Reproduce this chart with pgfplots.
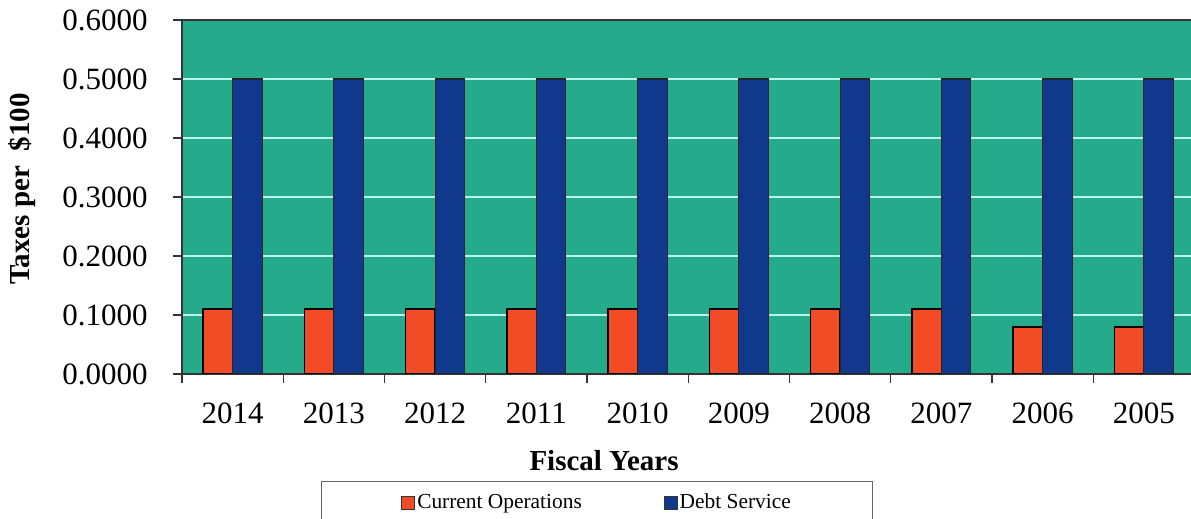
\documentclass[border=0pt]{standalone}
\usepackage{pgfplots}
\pgfplotsset{compat=1.18}
\usepackage{fontspec}
\setmainfont{Liberation Serif}
\definecolor{bgteal}{RGB}{38,170,140}
\definecolor{gridc}{RGB}{185,244,238}
\definecolor{barorange}{RGB}{242,76,38}
\definecolor{barblue}{RGB}{16,56,140}
\begin{document}
\begin{tikzpicture}
\begin{axis}[
  at={(0,0)}, anchor=south west,
  scale only axis,
  width=506.25pt, height=177pt,
  xmin=-0.5, xmax=9.5,
  ymin=0, ymax=0.6,
  ybar=0pt, bar width=14.75pt,
  axis background/.style={fill=bgteal},
  axis line style={black!80, line width=0.8pt},
  ymajorgrids, grid style={gridc, line width=0.8pt},
  xtick={0,...,9},
  xticklabels={2014,2013,2012,2011,2010,2009,2008,2007,2006,2005},
  major x tick style={draw=none},
  minor xtick={-0.5,0.5,...,9.5},
  ytick={0,0.1,...,0.6},
  xtick pos=bottom, ytick pos=left,
  tick align=outside,
  major tick length=4.5pt, minor tick length=4.5pt,
  tick style={black!80, line width=0.6pt},
  /pgf/number format/fixed,
  /pgf/number format/fixed zerofill,
  /pgf/number format/precision=4,
  /pgf/number format/assume math mode=true,
  yticklabel style={anchor=east, inner sep=0pt, xshift=-12.5pt, font=\fontsize{15.5}{16}\selectfont},
  xticklabel style={anchor=base, inner sep=0pt, yshift=-20.5pt, font=\fontsize{15.5}{16}\selectfont},
  xlabel={Fiscal Years},
  xlabel style={at={([yshift=-48.5pt]axis description cs:0.4168,0)}, anchor=base, inner sep=0pt, font=\fontsize{14.5}{15}\selectfont\bfseries},
  ylabel={Taxes per\ \ \$100},
  ylabel style={at={([xshift=-76pt]axis description cs:0,0.5226)}, anchor=base, inner sep=0pt, font=\fontsize{14.5}{15}\selectfont\bfseries},
  legend columns=2,
  legend style={at={(axis description cs:0.41,-0.302)}, anchor=north,
    draw=black!60, line width=0.6pt, inner xsep=40pt, inner ysep=5pt,
    nodes={inner sep=1pt},
    font=\fontsize{10.7}{12}\selectfont,
    /tikz/every even column/.append style={column sep=40pt}},
  legend image code/.code={\draw[#1, draw=black!80, line width=0.4pt] (0pt,-3.25pt) rectangle (6.5pt,3.25pt);},
]
\addplot[fill=barorange, draw=black, line width=0.8pt] coordinates {
  (0,0.11) (1,0.11) (2,0.11) (3,0.11) (4,0.11) (5,0.11) (6,0.11) (7,0.11) (8,0.08) (9,0.08)};
\addplot[fill=barblue, draw=black!85, line width=0.6pt] coordinates {
  (0,0.5) (1,0.5) (2,0.5) (3,0.5) (4,0.5) (5,0.5) (6,0.5) (7,0.5) (8,0.5) (9,0.5)};
\legend{Current Operations, Debt Service}
\end{axis}
\pgfresetboundingbox
\path[use as bounding box] (-91pt,-72.5pt) rectangle (504.5pt,187pt);
\end{tikzpicture}
\end{document}
